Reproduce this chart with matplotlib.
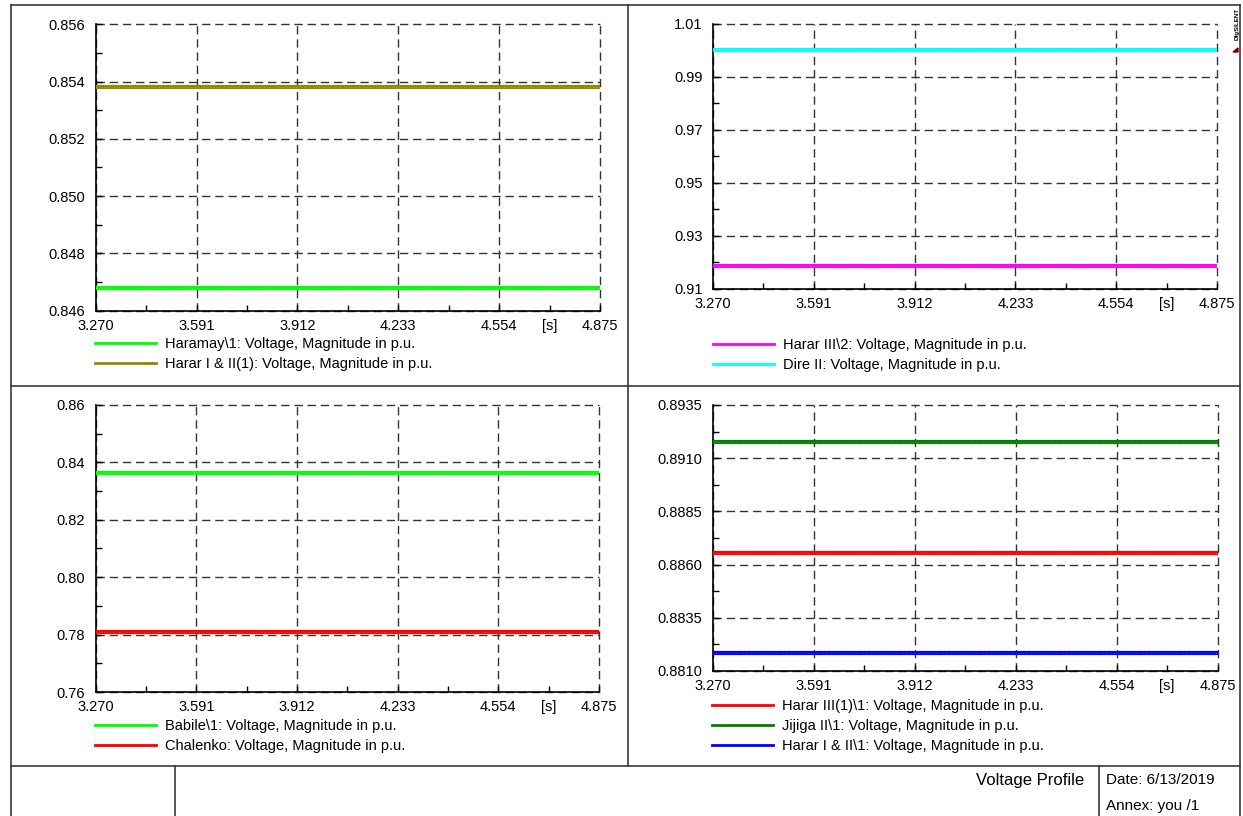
import matplotlib
matplotlib.use("Agg")
import matplotlib.pyplot as plt
from matplotlib.lines import Line2D
from matplotlib.patches import Polygon
from matplotlib.ticker import FixedLocator, FixedFormatter, FormatStrFormatter

plt.rcParams["font.family"] = ["Liberation Sans", "DejaVu Sans"]
plt.rcParams["font.size"] = 10.5

W, H = 1243, 816
FS = 10.5

# Zeitachse [s]
time_s = [3.270, 3.591, 3.912, 4.233, 4.554, 4.875]
x_ticks = [3.270, 3.591, 3.912, 4.233, 4.554, 4.875]
x_labels = ["3.270", "3.591", "3.912", "4.233", "4.554", "4.875"]

# Spannungen in p.u. (konstant im Zeitfenster)
haramaya_1 = [0.8468, 0.8468, 0.8468, 0.8468, 0.8468, 0.8468]
harar_12_1 = [0.8538, 0.8538, 0.8538, 0.8538, 0.8538, 0.8538]
harar3_2 = [0.9185, 0.9185, 0.9185, 0.9185, 0.9185, 0.9185]
dire2 = [1.0000, 1.0000, 1.0000, 1.0000, 1.0000, 1.0000]
babile_1 = [0.8363, 0.8363, 0.8363, 0.8363, 0.8363, 0.8363]
chalenko = [0.7810, 0.7810, 0.7810, 0.7810, 0.7810, 0.7810]
harar3_1_1 = [0.88655, 0.88655, 0.88655, 0.88655, 0.88655, 0.88655]
jijiga2_1 = [0.89177, 0.89177, 0.89177, 0.89177, 0.89177, 0.89177]
harar12_1 = [0.88185, 0.88185, 0.88185, 0.88185, 0.88185, 0.88185]

panels = [
    {
        "rect": (95.7, 24.3, 600, 310.5),
        "ylim": (0.846, 0.856), "ystep": 0.002, "fmt": "%.3f",
        "series": [
            (haramaya_1, "#00ff00", "Haramay\\1: Voltage, Magnitude in p.u."),
            (harar_12_1, "#8b8b00", "Harar I & II(1): Voltage, Magnitude in p.u."),
        ],
        "legend": (95, 337),
    },
    {
        "rect": (713, 24, 1217, 289),
        "ylim": (0.91, 1.01), "ystep": 0.02, "fmt": "%.2f",
        "series": [
            (harar3_2, "#ff00ff", "Harar III\\2: Voltage, Magnitude in p.u."),
            (dire2, "#00ffff", "Dire II: Voltage, Magnitude in p.u."),
        ],
        "legend": (713, 338),
    },
    {
        "rect": (95.7, 405, 599, 692),
        "ylim": (0.76, 0.86), "ystep": 0.02, "fmt": "%.2f",
        "series": [
            (babile_1, "#00ff00", "Babile\\1: Voltage, Magnitude in p.u."),
            (chalenko, "#ff0000", "Chalenko: Voltage, Magnitude in p.u."),
        ],
        "legend": (95, 719),
    },
    {
        "rect": (713, 405, 1217.5, 671),
        "ylim": (0.8810, 0.8935), "ystep": 0.0025, "fmt": "%.4f",
        "series": [
            (harar3_1_1, "#ff0000", "Harar III(1)\\1: Voltage, Magnitude in p.u."),
            (jijiga2_1, "#008000", "Jijiga II\\1: Voltage, Magnitude in p.u."),
            (harar12_1, "#0000ff", "Harar I & II\\1: Voltage, Magnitude in p.u."),
        ],
        "legend": (712, 699),
    },
]

fig = plt.figure(figsize=(W / 100, H / 100), dpi=100)


def fx(px):
    return px / W


def fy(py):
    return 1 - py / H


frame_col = "#3a3a3a"
for p in panels:
    x0, y0, x1, y1 = p["rect"]
    ax = fig.add_axes([fx(x0), fy(y1), fx(x1) - fx(x0), fy(y0) - fy(y1)])
    handles = []
    for vals, col, lab in p["series"]:
        ax.plot(time_s, vals, color=col, lw=3.0, solid_capstyle="butt", zorder=3)
        ax.plot(time_s, vals, color="white", lw=1.0, ls=(0, (0.6, 1.2)), alpha=0.25, zorder=4)
        handles.append(Line2D([], [], color=col, lw=2.0))
    lo, hi = p["ylim"]
    n = int(round((hi - lo) / p["ystep"]))
    y_major = [lo + i * p["ystep"] for i in range(n + 1)]
    y_minor = [lo + (i + 0.5) * p["ystep"] for i in range(n)]
    x_minor = [(x_ticks[i] + x_ticks[i + 1]) / 2 for i in range(len(x_ticks) - 1)]
    ax.set_xlim(time_s[0], time_s[-1])
    ax.set_ylim(lo, hi)
    ax.set_xticks(x_ticks)
    ax.set_xticklabels(x_labels)
    ax.xaxis.set_minor_locator(FixedLocator(x_minor))
    # Einheit als Beschriftung des letzten Zwischenticks
    ax.xaxis.set_minor_formatter(FixedFormatter([""] * (len(x_minor) - 1) + ["[s]"]))
    ax.yaxis.set_major_locator(FixedLocator(y_major))
    ax.yaxis.set_minor_locator(FixedLocator(y_minor))
    ax.yaxis.set_major_formatter(FormatStrFormatter(p["fmt"]))
    ax.tick_params(which="both", direction="in", length=4, width=1, color="black")
    ax.tick_params(axis="x", which="both", pad=6, labelsize=FS)
    ax.tick_params(axis="y", pad=7.5, labelsize=FS)
    ax.grid(True, which="major", color="#333333", lw=1.0, ls=(0, (6, 3.5)))
    for gl in ax.get_xgridlines() + ax.get_ygridlines():
        gl.set_clip_on(False)
    ax.set_axisbelow(True)
    for s in ("top", "right"):
        ax.spines[s].set_visible(False)
    for s in ("left", "bottom"):
        ax.spines[s].set_linewidth(1.2)
    ax.patch.set_alpha(0)
    lx, ly = p["legend"]
    ax.legend(handles, [s[2] for s in p["series"]], loc="upper left",
              bbox_to_anchor=(fx(lx), fy(ly)), bbox_transform=fig.transFigure,
              frameon=False, fontsize=FS, handlelength=4.2, handletextpad=0.6,
              labelspacing=0.42, borderpad=0, borderaxespad=0)

# Rahmen
frame = [
    ((11, 11), (5, 830)),
    ((1240, 1240), (5, 830)),
    ((11, 1240), (5, 5)),
    ((628, 628), (5, 766)),
    ((11, 1240), (386, 386)),
    ((11, 1240), (766, 766)),
    ((175, 175), (766, 830)),
    ((1099, 1099), (766, 830)),
]
for xs, ys in frame:
    fig.add_artist(Line2D([fx(v) for v in xs], [fy(v) for v in ys], color=frame_col, lw=1.2))

fig.text(fx(1084), fy(780.5), "Voltage Profile", ha="right", va="center", fontsize=12)
fig.text(fx(1106), fy(780.5), "Date: 6/13/2019", ha="left", va="center", fontsize=11)
fig.text(fx(1106), fy(806), "Annex: you /1", ha="left", va="center", fontsize=11)

# Logo
fig.text(fx(1237), fy(8), "DIgSILENT", rotation=90, ha="center", va="top",
         fontsize=4.5, fontweight="bold")
fig.add_artist(Polygon([[fx(1233), fy(52)], [fx(1238), fy(48)], [fx(1238), fy(52)]],
                       closed=True, color="#7a0000", transform=fig.transFigure))

fig.savefig("out.png", dpi=100)
